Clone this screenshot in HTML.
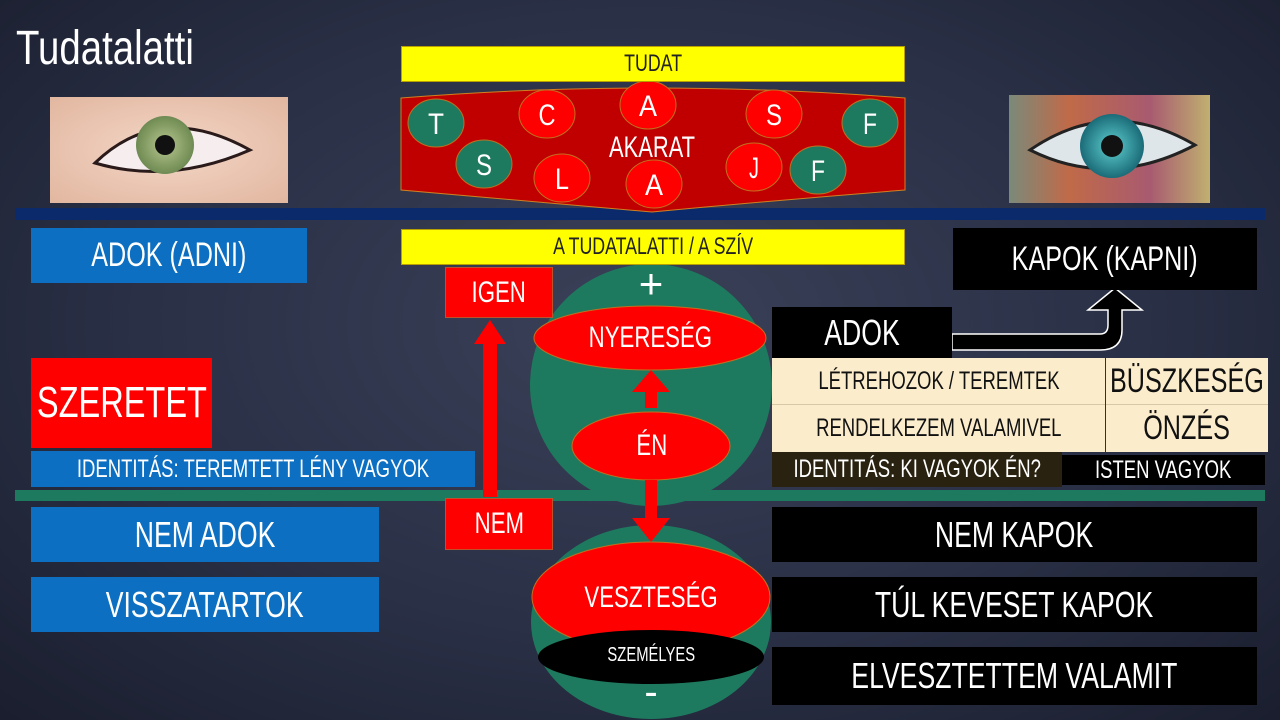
<!DOCTYPE html>
<html><head><meta charset="utf-8"><style>
*{margin:0;padding:0;box-sizing:border-box}
body{width:1280px;height:720px;overflow:hidden;position:relative;background:radial-gradient(ellipse at 50% 45%,#3a4158 0%,#2a3046 55%,#1a1e2e 100%);font-family:"Liberation Sans Narrow","Liberation Sans",sans-serif;color:#fff}
.b{position:absolute;display:flex;align-items:center;justify-content:center;white-space:nowrap;text-align:center}
.b>span{display:inline-block;transform:scaleX(.74);transform-origin:center}
.blue{background:#0c6fc2;color:#fff}
.blk{background:#000;color:#fff}
.red{background:#f00;color:#fff;border:1px solid #c0502a}
.cream{background:#fbeccb;color:#111}
.yel{background:#ffff00;color:#222;border:1px solid #b8a000}
svg{position:absolute;left:0;top:0}
</style></head><body>
<svg width="1280" height="720">
<defs>
<radialGradient id="sk" cx="50%" cy="50%" r="70%"><stop offset="0" stop-color="#f3d6c6"/><stop offset="1" stop-color="#e2b7a0"/></radialGradient>
<radialGradient id="ir1"><stop offset="0" stop-color="#b8c890"/><stop offset="1" stop-color="#6e8a52"/></radialGradient>
<radialGradient id="ir2"><stop offset="0" stop-color="#5fd0d0"/><stop offset="1" stop-color="#1a6b78"/></radialGradient>
<linearGradient id="rg" x1="0" x2="1"><stop offset="0" stop-color="#7a8a7a"/><stop offset=".3" stop-color="#c06a48"/><stop offset=".7" stop-color="#a85a70"/><stop offset="1" stop-color="#c0b070"/></linearGradient>
</defs>
<rect x="50" y="97" width="238" height="106" fill="url(#sk)"/>
<path d="M95 163 Q160 100 250 150 Q170 185 95 163Z" fill="#f6eeee" stroke="#2a1a1a" stroke-width="3"/>
<circle cx="165" cy="145" r="29" fill="url(#ir1)"/>
<circle cx="165" cy="145" r="10" fill="#111"/>
<rect x="1009" y="95" width="201" height="108" fill="url(#rg)"/>
<path d="M1030 150 Q1110 95 1195 145 Q1110 190 1030 150Z" fill="#dfe6ea" stroke="#222" stroke-width="3"/>
<circle cx="1112" cy="146" r="32" fill="url(#ir2)"/>
<circle cx="1112" cy="146" r="11" fill="#111"/>
<rect x="15" y="208" width="1250" height="12" fill="#0b2a6b"/>
<path d="M401 98 Q650 78 905 98 L905 190 Q780 200 652 212 Q520 200 401 190Z" fill="#c00000" stroke="#d08020" stroke-width="1"/>
<g stroke="#c07020" stroke-width="1">
<ellipse cx="436" cy="123" rx="28" ry="24" fill="#1e7a5e"/>
<ellipse cx="484" cy="164" rx="28" ry="24" fill="#1e7a5e"/>
<ellipse cx="547" cy="114" rx="28" ry="24" fill="#f00"/>
<ellipse cx="562" cy="178" rx="28" ry="24" fill="#f00"/>
<ellipse cx="648" cy="105" rx="28" ry="24" fill="#f00"/>
<ellipse cx="654" cy="184" rx="28" ry="24" fill="#f00"/>
<ellipse cx="774" cy="114" rx="28" ry="24" fill="#f00"/>
<ellipse cx="754" cy="167" rx="28" ry="24" fill="#f00"/>
<ellipse cx="818" cy="170" rx="28" ry="24" fill="#1e7a5e"/>
<ellipse cx="870" cy="123" rx="28" ry="24" fill="#1e7a5e"/>
</g>
<g font-family="Liberation Sans Narrow,Liberation Sans,sans-serif" font-size="30" fill="#fff" text-anchor="middle">
<text x="436" y="134" textLength="16" lengthAdjust="spacingAndGlyphs">T</text><text x="484" y="175" textLength="16" lengthAdjust="spacingAndGlyphs">S</text><text x="547" y="125" textLength="17" lengthAdjust="spacingAndGlyphs">C</text><text x="562" y="189" textLength="14" lengthAdjust="spacingAndGlyphs">L</text>
<text x="648" y="116" textLength="18" lengthAdjust="spacingAndGlyphs">A</text><text x="654" y="195" textLength="18" lengthAdjust="spacingAndGlyphs">A</text><text x="774" y="125" textLength="16" lengthAdjust="spacingAndGlyphs">S</text><text x="754" y="178" textLength="10" lengthAdjust="spacingAndGlyphs">J</text>
<text x="818" y="181" textLength="14" lengthAdjust="spacingAndGlyphs">F</text><text x="870" y="134" textLength="14" lengthAdjust="spacingAndGlyphs">F</text>
<text x="652" y="157" textLength="86" lengthAdjust="spacingAndGlyphs">AKARAT</text>
</g>
<ellipse cx="651" cy="385" rx="121" ry="121" fill="#1e7a5e"/>
<ellipse cx="651" cy="622" rx="120" ry="97" fill="#1e7a5e"/>
<rect x="15" y="490" width="1250" height="11" fill="#1e7a5e"/>
<ellipse cx="650" cy="338" rx="116" ry="32" fill="#f00" stroke="#c07020"/>
<ellipse cx="651" cy="446" rx="79" ry="34" fill="#f00" stroke="#c07020"/>
<ellipse cx="651" cy="597" rx="119" ry="55" fill="#f00" stroke="#c07020"/>
<ellipse cx="651" cy="657" rx="113" ry="27" fill="#000"/>
<rect x="483" y="342" width="14" height="155" fill="#f00"/>
<polygon points="474,344 490,320 506,344" fill="#f00"/>
<rect x="645" y="392" width="12" height="16" fill="#f00"/>
<polygon points="632,392 651,370 670,392" fill="#f00"/>
<rect x="645" y="480" width="12" height="40" fill="#f00"/>
<polygon points="632,518 651,542 670,518" fill="#f00"/>
<path d="M952 334 L1100 334 Q1108 334 1108 325 L1108 310 L1088 310 L1115 288 L1142 310 L1122 310 L1122 330 Q1122 350 1100 350 L952 350Z" fill="#000" stroke="#fff" stroke-width="1.5"/>
<g font-family="Liberation Sans,sans-serif" fill="#fff" text-anchor="middle" font-size="42">
<text x="651" y="298">+</text><text x="651" y="705" font-size="40">-</text>
</g>
</svg>
<div class="b" style="left:16px;top:22px;width:180px;height:52px;font-size:48px;color:#fff;justify-content:flex-start"><span style="transform-origin:left;transform:scaleX(.8)">Tudatalatti</span></div>
<div class="b yel" style="left:401px;top:46px;width:504px;height:36px;font-size:24px"><span>TUDAT</span></div>
<div class="b yel" style="left:401px;top:229px;width:504px;height:36px;font-size:24px"><span>A TUDATALATTI / A SZÍV</span></div>
<div class="b blue" style="left:31px;top:228px;width:276px;height:55px;font-size:34px"><span>ADOK (ADNI)</span></div>
<div class="b blk" style="left:953px;top:228px;width:304px;height:62px;font-size:34px"><span>KAPOK (KAPNI)</span></div>
<div class="b red" style="left:445px;top:267px;width:108px;height:51px;font-size:30px"><span>IGEN</span></div>
<div class="b red" style="left:445px;top:498px;width:108px;height:52px;font-size:30px"><span>NEM</span></div>
<div class="b" style="left:535px;top:315px;width:230px;height:46px;font-size:30px"><span>NYERESÉG</span></div>
<div class="b" style="left:573px;top:423px;width:157px;height:46px;font-size:30px"><span>ÉN</span></div>
<div class="b" style="left:532px;top:575px;width:238px;height:46px;font-size:30px"><span>VESZTESÉG</span></div>
<div class="b" style="left:538px;top:640px;width:227px;height:30px;font-size:20px"><span>SZEMÉLYES</span></div>
<div class="b red" style="left:31px;top:358px;width:181px;height:90px;font-size:44px;border:none"><span>SZERETET</span></div>
<div class="b blue" style="left:31px;top:451px;width:444px;height:36px;font-size:25px"><span>IDENTITÁS: TEREMTETT LÉNY VAGYOK</span></div>
<div class="b blue" style="left:31px;top:507px;width:348px;height:55px;font-size:36px"><span>NEM ADOK</span></div>
<div class="b blue" style="left:31px;top:577px;width:348px;height:55px;font-size:36px"><span>VISSZATARTOK</span></div>
<div class="b blk" style="left:772px;top:307px;width:180px;height:51px;font-size:36px"><span>ADOK</span></div>
<div class="b cream" style="left:772px;top:358px;width:333px;height:47px;font-size:25px;border-bottom:1px solid #d8c8a8"><span>LÉTREHOZOK / TEREMTEK</span></div>
<div class="b cream" style="left:772px;top:405px;width:333px;height:47px;font-size:25px"><span>RENDELKEZEM VALAMIVEL</span></div>
<div class="b cream" style="left:1106px;top:358px;width:162px;height:47px;font-size:34px;border-bottom:1px solid #d8c8a8"><span>BÜSZKESÉG</span></div>
<div class="b cream" style="left:1106px;top:405px;width:162px;height:47px;font-size:34px"><span>ÖNZÉS</span></div>
<div class="b" style="left:772px;top:452px;width:290px;height:35px;font-size:25px;background:#2a2210"><span>IDENTITÁS: KI VAGYOK ÉN?</span></div>
<div class="b blk" style="left:1062px;top:455px;width:203px;height:30px;font-size:25px"><span>ISTEN VAGYOK</span></div>
<div class="b blk" style="left:772px;top:507px;width:485px;height:55px;font-size:36px"><span>NEM KAPOK</span></div>
<div class="b blk" style="left:772px;top:577px;width:485px;height:55px;font-size:36px"><span>TÚL KEVESET KAPOK</span></div>
<div class="b blk" style="left:772px;top:647px;width:485px;height:58px;font-size:36px"><span>ELVESZTETTEM VALAMIT</span></div>
</body></html>
